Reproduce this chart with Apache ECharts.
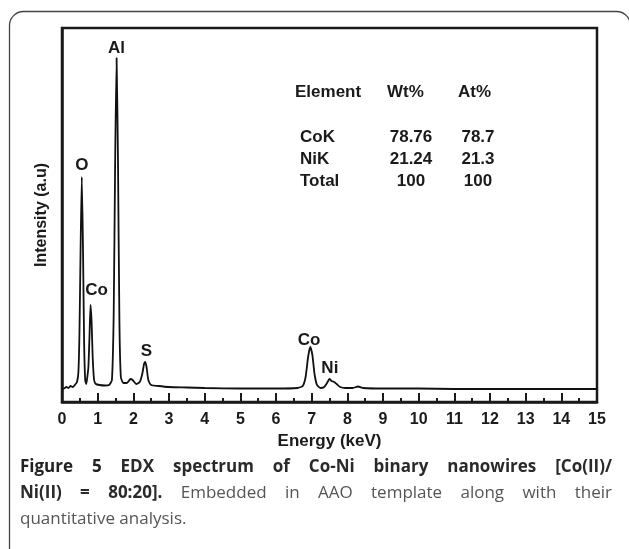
<!DOCTYPE html>
<html><head><meta charset="utf-8">
<script src="https://cdn.jsdelivr.net/npm/echarts@6/dist/echarts.min.js"></script>
<style>html,body{margin:0;padding:0;background:#fff}#c{width:629px;height:549px}</style>
</head><body><div id="c"></div>
<script>
// Spectrum: energy (keV) and intensity (a.u.)
const energy = [0.00,0.06,0.12,0.18,0.24,0.30,0.36,0.42,0.46,0.49,0.52,0.555,0.59,0.62,0.65,0.68,0.71,0.74,0.77,0.80,0.83,0.86,0.90,0.95,1.05,1.20,1.32,1.40,1.45,1.49,1.53,1.57,1.61,1.65,1.72,1.82,1.92,1.98,2.08,2.18,2.25,2.30,2.33,2.37,2.42,2.50,2.70,3.00,3.50,4.00,5.00,6.00,6.60,6.75,6.83,6.90,6.96,7.02,7.08,7.15,7.25,7.35,7.43,7.50,7.56,7.63,7.70,7.80,7.95,8.15,8.30,8.45,9.00,10,11,12,13,14,15];
const intensity = [13,13.5,15,14,16,15,17,20,30,70,150,225,150,60,22,18,25,35,65,97,80,45,22,18,17,16.5,17,22,90,240,344,240,80,25,19,19,23,22,18,20,28,38,40,35,22,17,16,15,14.5,14,13.5,13.5,14,16,25,45,55,47,28,17,14,15,19,23,21,20,18,15,14,14,15.5,14,13.5,13.5,13,13,13,13,13];
// Peak labels
const peakNames = ['Al','O','Co','S','Co','Ni'];
const peakLabelE = [1.53,0.56,0.97,2.37,6.93,7.51];
const peakLabelI = [354,237,112,51,62,34];
// Axis
const xTickValues = [0,1,2,3,4,5,6,7,8,9,10,11,12,13,14,15];
// Quantitative table
const tableHeader = ['Element','Wt%','At%'];
const tableElements = ['CoK','NiK','Total'];
const tableWt = ['78.76','21.24','100'];
const tableAt = ['78.7','21.3','100'];
// Caption
const captionLine1 = [['Figure',700,'#222'],['5',700,'#222'],['EDX',700,'#2a2a2a'],['spectrum',700,'#2a2a2a'],['of',700,'#2a2a2a'],['Co-Ni',700,'#2a2a2a'],['binary',700,'#2a2a2a'],['nanowires',700,'#2a2a2a'],['[Co(II)/',700,'#2a2a2a']];
const captionLine2 = [['Ni(II)',700,'#2a2a2a'],['=',700,'#2a2a2a'],['80:20].',700,'#2a2a2a'],['Embedded',400,'#555'],['in',400,'#555'],['AAO',400,'#555'],['template',400,'#555'],['along',400,'#555'],['with',400,'#555'],['their',400,'#555']];
const captionLine3 = 'quantitative analysis.';

const FONT = '"Liberation Sans", Arial, sans-serif';
const CAP_FONT = '"Open Sans", sans-serif';
const CAP_SIZE = 17;
const ink = '#1a1a1a';

const chart = echarts.init(document.getElementById('c'), null, {renderer:'canvas'});

const ctx = document.createElement('canvas').getContext('2d');
function measure(t, w){ ctx.font = w + ' ' + CAP_SIZE + 'px ' + CAP_FONT; return ctx.measureText(t).width; }
function justify(words, x0, x1, y){
  const ws = words.map(w => measure(w[0], w[1]));
  const sum = ws.reduce((a,b)=>a+b,0);
  const gap = (x1 - x0 - sum) / (words.length - 1);
  let x = x0; const out = [];
  words.forEach((w,i)=>{
    out.push({type:'text', x:x, y:y, silent:true, style:{text:w[0], fontFamily:CAP_FONT, fontSize:CAP_SIZE, fontWeight:w[1], fill:w[2], textVerticalAlign:'middle', verticalAlign:'middle'}});
    x += ws[i] + gap;
  });
  return out;
}

const graphics = [];
graphics.push({type:'rect', silent:true, shape:{x:9.5, y:11.5, width:621, height:620, r:14}, style:{fill:'none', stroke:'#444', lineWidth:1.3}});
function ttext(t, x, y, align){
  return {type:'text', x:x, y:y, silent:true, style:{text:t, fontFamily:FONT, fontSize:17, fontWeight:'bold', fill:ink, textAlign:align, align:align, textVerticalAlign:'middle', verticalAlign:'middle'}};
}
graphics.push(ttext(tableHeader[0], 295, 92, 'left'));
graphics.push(ttext(tableHeader[1], 387, 92, 'left'));
graphics.push(ttext(tableHeader[2], 458, 92, 'left'));
const rowY = [137,159,181];
tableElements.forEach((e,i)=>{
  graphics.push(ttext(e, 300, rowY[i], 'left'));
  graphics.push(ttext(tableWt[i], 411, rowY[i], 'center'));
  graphics.push(ttext(tableAt[i], 478, rowY[i], 'center'));
});
justify(captionLine1, 20, 612, 467).forEach(g=>graphics.push(g));
justify(captionLine2, 20, 612, 493).forEach(g=>graphics.push(g));
graphics.push({type:'text', x:20, y:519, silent:true, style:{text:captionLine3, fontFamily:CAP_FONT, fontSize:CAP_SIZE, fontWeight:400, fill:'#555', textVerticalAlign:'middle', verticalAlign:'middle'}});

chart.setOption({
  animation:false,
  backgroundColor:'#fff',
  grid:{left:62, right:32, top:28, bottom:147, show:true, borderColor:ink, borderWidth:2.5, backgroundColor:'transparent'},
  xAxis:{
    type:'value', min:0, max:15, interval:1,
    axisLine:{show:true, onZero:false, lineStyle:{color:ink, width:2.5}},
    axisTick:{show:true, inside:true, length:9, lineStyle:{color:ink, width:2}},
    minorTick:{show:true, splitNumber:2, length:4, lineStyle:{color:ink, width:2}},
    axisLabel:{margin:10, fontSize:16, fontWeight:'bold', color:ink, fontFamily:FONT,
      formatter: v => xTickValues.indexOf(v) >= 0 ? String(v) : ''},
    splitLine:{show:false},
    name:'Energy (keV)', nameLocation:'middle', nameGap:31,
    nameTextStyle:{fontSize:17, fontWeight:'bold', color:ink, fontFamily:FONT}
  },
  yAxis:{
    type:'value', min:0, max:374,
    axisLine:{show:true, lineStyle:{color:ink, width:2.5}},
    axisTick:{show:false}, axisLabel:{show:false}, splitLine:{show:false},
    name:'Intensity (a.u)', nameLocation:'middle', nameGap:12,
    nameTextStyle:{fontSize:16, fontWeight:'bold', color:ink, fontFamily:FONT}
  },
  series:[
    {type:'line', data: energy.map((e,i)=>[e, intensity[i]]), showSymbol:false, smooth:0.2,
     lineStyle:{color:'#111', width:1.8}, silent:true},
    {type:'scatter', data: peakNames.map((n,i)=>({value:[peakLabelE[i], peakLabelI[i]], name:n})),
     symbolSize:1, itemStyle:{color:'rgba(0,0,0,0)', opacity:1}, silent:true,
     label:{show:true, position:'inside', formatter: p => p.name, fontSize:17, fontWeight:'bold', color:ink, fontFamily:FONT, textBorderWidth:0, textBorderColor:'transparent'}}
  ],
  graphic: graphics
});
</script></body></html>
